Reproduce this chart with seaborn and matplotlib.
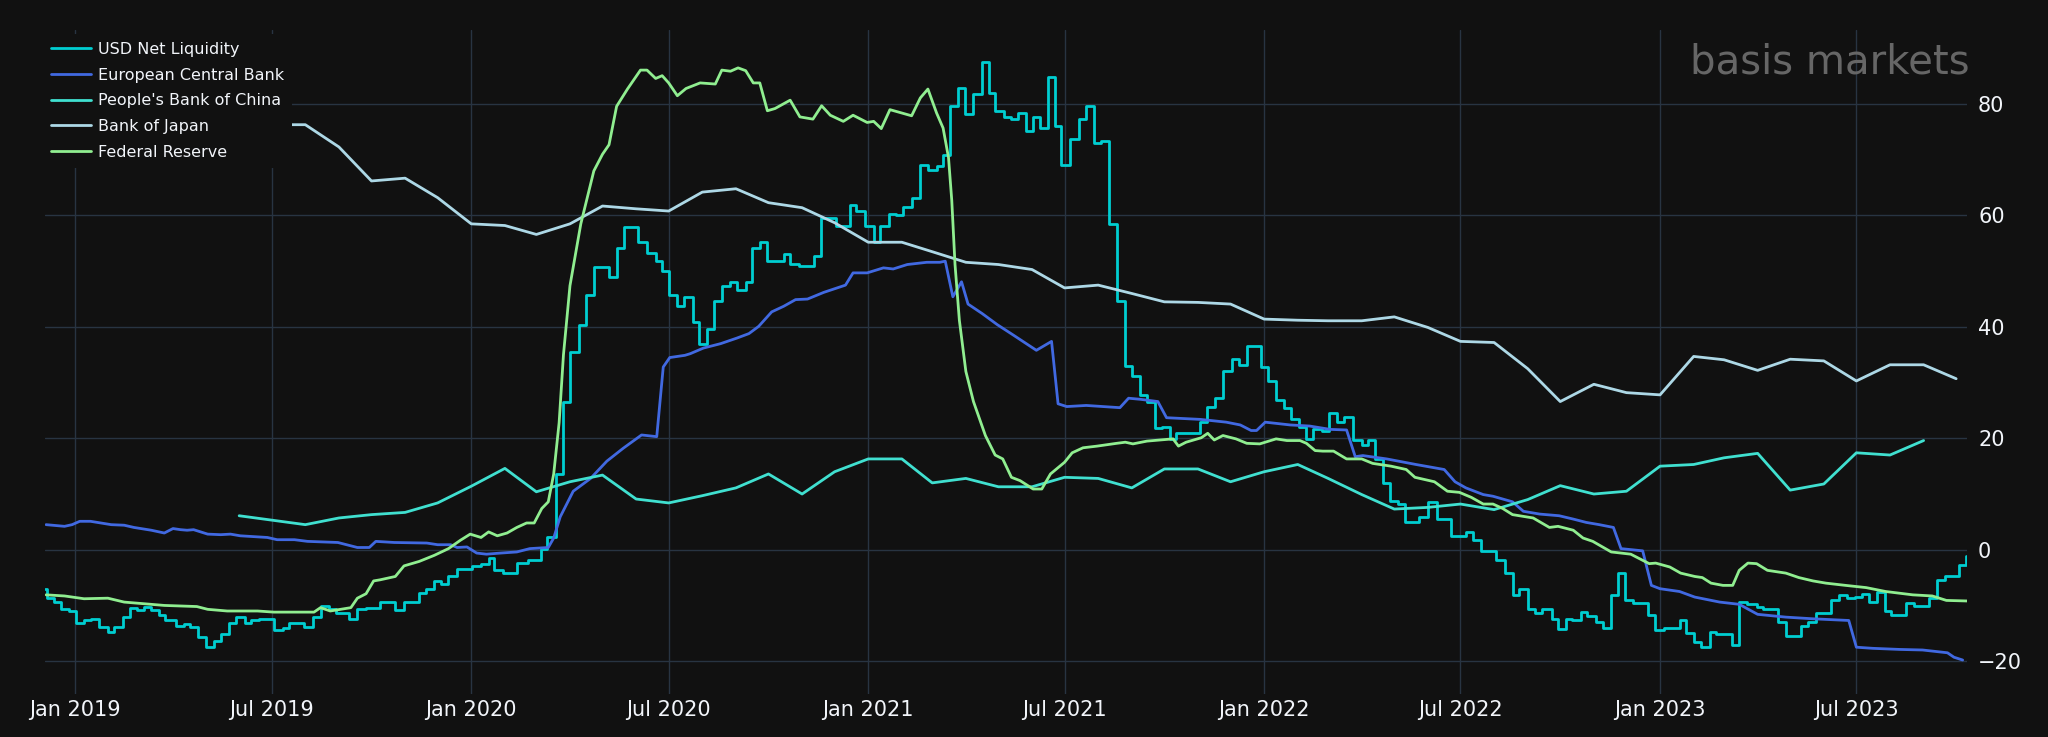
import matplotlib
matplotlib.use("Agg")
import matplotlib.pyplot as plt
import matplotlib.dates as mdates
import pandas as pd
import seaborn as sns

# ---------------- data ----------------
BASE_DATE = "2019-01-01"  # day offsets below are counted from this date

usd_days = [-28, -26, -20, -13, -6, 1, 8, 14, 22, 30,
            36, 44, 50, 57, 63, 70, 77, 83, 93, 100,
            106, 113, 120, 128, 134, 142, 148, 156, 162, 169,
            183, 191, 197, 211, 219, 226, 234, 240, 252, 260,
            268, 281, 295, 303, 317, 323, 331, 337, 344, 352,
            366, 374, 381, 386, 394, 407, 417, 429, 435, 443,
            450, 456, 464, 471, 478, 492, 499, 506, 519, 527,
            535, 541, 547, 555, 561, 569, 575, 582, 589, 596,
            604, 610, 618, 624, 631, 638, 653, 659, 667, 681,
            687, 701, 714, 720, 728, 736, 742, 750, 757, 763,
            771, 779, 786, 794, 800, 806, 814, 820, 828, 836,
            842, 848, 856, 863, 869, 876, 883, 889, 897, 903,
            909, 917, 925, 932, 939, 946, 953, 960, 968, 974,
            982, 988, 995, 1002, 1009, 1015, 1037, 1043, 1051, 1058,
            1066, 1073, 1080, 1093, 1100, 1107, 1114, 1121, 1128, 1135,
            1141, 1149, 1156, 1163, 1170, 1178, 1186, 1192, 1198, 1206,
            1212, 1219, 1226, 1239, 1247, 1255, 1268, 1282, 1289, 1296,
            1310, 1318, 1325, 1331, 1339, 1346, 1352, 1361, 1367, 1374,
            1380, 1388, 1394, 1402, 1408, 1416, 1422, 1429, 1436, 1450,
            1456, 1465, 1479, 1485, 1492, 1499, 1507, 1513, 1527, 1534,
            1541, 1550, 1556, 1570, 1577, 1591, 1597, 1605, 1619, 1626,
            1633, 1641, 1647, 1654, 1661, 1668, 1674, 1688, 1695, 1709,
            1716, 1724, 1737, 1743]
usd_vals = [-7.1, -8.7, -9.4, -10.6, -11.0, -13.1, -12.7, -12.4, -13.9, -14.8,
            -13.9, -12.1, -10.4, -10.8, -10.2, -10.8, -11.7, -12.7, -13.7, -13.3,
            -13.9, -15.6, -17.5, -16.3, -15.2, -13.1, -12.1, -13.1, -12.7, -12.5,
            -14.4, -14.0, -13.1, -13.9, -12.1, -10.1, -10.6, -11.4, -12.5, -10.6,
            -10.4, -9.4, -10.8, -9.4, -7.8, -7.0, -5.6, -6.2, -4.8, -3.5,
            -2.9, -2.5, -1.4, -3.7, -4.2, -2.4, -1.9, 0.2, 2.2, 13.6,
            26.6, 35.5, 40.3, 45.7, 50.8, 49.0, 54.1, 57.9, 55.2, 53.3,
            51.8, 50.0, 45.8, 43.7, 45.4, 40.8, 37.0, 39.7, 44.7, 47.4,
            48.1, 46.6, 48.1, 54.1, 55.2, 51.8, 53.1, 51.3, 51.0, 52.7,
            59.6, 58.2, 61.9, 60.8, 58.2, 55.2, 58.2, 60.2, 60.0, 61.5,
            63.1, 69.0, 68.1, 68.8, 70.8, 79.7, 82.8, 78.2, 81.9, 87.5,
            82.0, 78.8, 77.7, 77.3, 78.4, 75.1, 77.7, 75.7, 84.8, 76.1,
            69.0, 73.8, 77.3, 79.6, 73.1, 73.3, 58.5, 44.7, 32.9, 31.1,
            27.8, 26.5, 21.9, 22.1, 19.9, 20.9, 22.9, 25.7, 27.2, 32.0,
            34.3, 33.2, 36.5, 32.8, 30.3, 26.8, 25.5, 23.4, 22.0, 19.9,
            21.6, 21.3, 24.5, 22.9, 23.9, 19.7, 18.8, 19.7, 16.3, 12.0,
            8.8, 8.2, 5.0, 5.8, 8.6, 5.5, 2.5, 3.2, 1.7, -0.2,
            -1.9, -4.2, -8.1, -7.0, -10.6, -11.4, -10.6, -12.5, -14.2, -12.5,
            -12.7, -11.1, -11.9, -12.9, -14.0, -8.1, -4.1, -9.1, -9.6, -11.7,
            -14.4, -14.0, -12.7, -15.0, -16.5, -17.5, -14.8, -15.2, -17.1, -9.3,
            -9.8, -10.2, -10.6, -12.9, -15.4, -13.7, -12.9, -11.4, -9.1, -8.1,
            -8.7, -8.5, -7.9, -9.4, -7.5, -11.0, -11.7, -9.6, -10.1, -8.7,
            -5.4, -4.7, -2.7, -1.2]

ecb_days = [-27, -10, -3, 4, 14, 33, 45, 54, 70, 82,
            90, 97, 103, 109, 122, 134, 143, 152, 177, 186,
            202, 214, 242, 260, 271, 277, 294, 324, 334, 346,
            352, 361, 370, 379, 392, 407, 419, 436, 441, 447,
            459, 475, 490, 505, 522, 536, 542, 548, 562, 567,
            579, 595, 610, 621, 630, 642, 653, 664, 675, 690,
            710, 717, 730, 745, 754, 767, 785, 797, 802, 809,
            817, 823, 836, 850, 865, 886, 900, 906, 914, 932,
            963, 971, 982, 998, 1006, 1037, 1061, 1074, 1084, 1089,
            1097, 1120, 1138, 1157, 1172, 1180, 1187, 1209, 1236, 1262,
            1272, 1282, 1298, 1307, 1325, 1335, 1350, 1368, 1381, 1393,
            1405, 1418, 1425, 1445, 1453, 1461, 1479, 1493, 1516, 1534,
            1551, 1577, 1602, 1635, 1642, 1657, 1682, 1703, 1726, 1732,
            1740]
ecb_vals = [4.5, 4.2, 4.5, 5.1, 5.1, 4.5, 4.4, 4.0, 3.5, 3.0,
            3.8, 3.6, 3.5, 3.6, 2.8, 2.7, 2.8, 2.5, 2.2, 1.8,
            1.8, 1.5, 1.3, 0.4, 0.4, 1.5, 1.3, 1.2, 0.9, 0.9,
            0.4, 0.5, -0.6, -0.8, -0.6, -0.4, 0.2, 0.4, 2.1, 5.9,
            10.5, 12.8, 15.9, 18.2, 20.6, 20.3, 32.8, 34.5, 34.9, 35.2,
            36.2, 37.0, 38.0, 38.8, 40.1, 42.7, 43.7, 44.9, 45.0, 46.2,
            47.5, 49.7, 49.7, 50.6, 50.4, 51.2, 51.6, 51.6, 51.8, 45.4,
            48.1, 44.1, 42.4, 40.4, 38.5, 35.8, 37.4, 26.2, 25.7, 25.9,
            25.5, 27.2, 27.0, 26.6, 23.7, 23.4, 22.9, 22.4, 21.4, 21.4,
            22.9, 22.4, 22.2, 21.6, 21.5, 16.7, 16.9, 16.3, 15.3, 14.4,
            12.2, 11.1, 9.9, 9.6, 8.6, 6.9, 6.4, 6.1, 5.5, 4.9,
            4.5, 4.0, 0.2, -0.2, -6.4, -7.0, -7.5, -8.5, -9.4, -9.8,
            -11.6, -12.1, -12.4, -12.7, -17.5, -17.7, -17.9, -18.0, -18.5, -19.3,
            -19.8]

pboc_months = ["2019-06", "2019-08", "2019-09", "2019-10", "2019-11", "2019-12",
               "2020-01", "2020-02", "2020-03", "2020-04", "2020-05", "2020-06",
               "2020-07", "2020-08", "2020-09", "2020-10", "2020-11", "2020-12",
               "2021-01", "2021-02", "2021-03", "2021-04", "2021-05", "2021-06",
               "2021-07", "2021-08", "2021-09", "2021-10", "2021-11", "2021-12",
               "2022-01", "2022-02", "2022-03", "2022-04", "2022-05", "2022-06",
               "2022-07", "2022-08", "2022-09", "2022-10", "2022-11", "2022-12",
               "2023-01", "2023-02", "2023-03", "2023-04", "2023-05", "2023-06",
               "2023-07", "2023-08", "2023-09"]
pboc_vals = [6.1, 4.5, 5.7, 6.3, 6.7, 8.4,
             11.4, 14.6, 10.4, 12.2, 13.4, 9.1, 8.4, 9.7, 11.1, 13.6, 10.0, 14.0,
             16.3, 16.3, 12.0, 12.8, 11.3, 11.3, 13.0, 12.8, 11.1, 14.5, 14.5, 12.2,
             14.0, 15.3, 12.8, 9.9, 7.3, 7.6, 8.2, 7.2, 9.0, 11.5, 10.0, 10.5,
             15.0, 15.3, 16.5, 17.3, 10.7, 11.8, 17.4, 17.0, 19.6]

boj_months = ["2019-07", "2019-08", "2019-09", "2019-10", "2019-11", "2019-12",
              "2020-01", "2020-02", "2020-03", "2020-04", "2020-05", "2020-06",
              "2020-07", "2020-08", "2020-09", "2020-10", "2020-11", "2020-12",
              "2021-01", "2021-02", "2021-03", "2021-04", "2021-05", "2021-06",
              "2021-07", "2021-08", "2021-09", "2021-10", "2021-11", "2021-12",
              "2022-01", "2022-02", "2022-03", "2022-04", "2022-05", "2022-06",
              "2022-07", "2022-08", "2022-09", "2022-10", "2022-11", "2022-12",
              "2023-01", "2023-02", "2023-03", "2023-04", "2023-05", "2023-06",
              "2023-07", "2023-08", "2023-09", "2023-10"]
boj_vals = [76.3, 76.3, 72.3, 66.2, 66.7, 63.2,
            58.5, 58.2, 56.6, 58.5, 61.7, 61.2, 60.8, 64.2, 64.8, 62.3, 61.4, 58.7,
            55.2, 55.2, 53.5, 51.6, 51.2, 50.3, 47.0, 47.5, 46.0, 44.5, 44.4, 44.1,
            41.4, 41.2, 41.1, 41.1, 41.8, 39.9, 37.4, 37.2, 32.5, 26.6, 29.7, 28.2,
            27.8, 34.7, 34.1, 32.2, 34.2, 33.9, 30.3, 33.2, 33.2, 30.7]

fed_days = [-27, -10, 8, 30, 45, 57, 82, 112, 122, 140,
            168, 183, 220, 226, 235, 254, 260, 268, 275, 281,
            295, 303, 317, 331, 344, 355, 364, 374, 381, 389,
            398, 407, 416, 423, 430, 436, 441, 446, 450, 456,
            466, 478, 486, 492, 499, 509, 521, 527, 535, 541,
            547, 555, 563, 576, 590, 596, 604, 611, 618, 625,
            631, 638, 645, 659, 668, 680, 688, 696, 708, 717,
            730, 736, 743, 751, 771, 779, 786, 794, 800, 805,
            808, 811, 815, 821, 828, 839, 848, 855, 863, 871,
            883, 891, 899, 912, 919, 929, 942, 960, 968, 975,
            988, 1000, 1012, 1017, 1024, 1038, 1044, 1050, 1058, 1070,
            1080, 1092, 1107, 1117, 1129, 1135, 1143, 1150, 1160, 1172,
            1186, 1196, 1213, 1227, 1235, 1253, 1265, 1276, 1287, 1298,
            1307, 1316, 1325, 1344, 1359, 1367, 1381, 1390, 1399, 1416,
            1434, 1442, 1451, 1457, 1470, 1480, 1493, 1500, 1508, 1519,
            1528, 1534, 1542, 1550, 1560, 1577, 1589, 1602, 1614, 1632,
            1651, 1669, 1694, 1712, 1725, 1744]
fed_vals = [-8.1, -8.3, -8.8, -8.7, -9.4, -9.6, -10.0, -10.2, -10.7, -11.0,
            -11.0, -11.2, -11.2, -10.4, -11.0, -10.4, -8.7, -7.9, -5.6, -5.4,
            -4.8, -2.9, -2.1, -1.0, 0.2, 1.7, 2.8, 2.2, 3.2, 2.5,
            3.0, 4.0, 4.8, 4.8, 7.4, 8.6, 13.6, 22.8, 35.0, 47.4,
            58.5, 68.0, 71.0, 72.7, 79.6, 82.7, 86.1, 86.1, 84.6, 85.1,
            83.8, 81.5, 82.8, 83.8, 83.6, 86.1, 85.9, 86.5, 86.0, 83.8,
            83.8, 78.8, 79.2, 80.7, 77.7, 77.3, 79.7, 78.0, 76.9, 78.0,
            76.7, 76.9, 75.6, 79.0, 77.9, 81.1, 82.7, 78.4, 75.7, 70.4,
            62.7, 51.2, 41.2, 32.0, 26.6, 20.5, 17.0, 16.3, 13.0, 12.4,
            10.9, 10.9, 13.6, 15.7, 17.4, 18.3, 18.6, 19.1, 19.3, 19.0,
            19.5, 19.7, 19.9, 18.6, 19.3, 20.1, 20.9, 19.7, 20.5, 19.9,
            19.1, 19.0, 19.9, 19.6, 19.6, 19.1, 17.8, 17.7, 17.7, 16.3,
            16.3, 15.5, 15.0, 14.4, 13.0, 12.2, 10.5, 10.3, 9.4, 8.2,
            8.2, 7.4, 6.3, 5.7, 4.0, 4.2, 3.5, 2.1, 1.5, -0.4,
            -0.8, -1.6, -2.5, -2.4, -3.1, -4.2, -4.8, -5.0, -6.0, -6.4,
            -6.4, -3.7, -2.4, -2.5, -3.7, -4.2, -5.0, -5.6, -6.0, -6.4,
            -6.8, -7.5, -8.1, -8.3, -9.1, -9.2]

series_names = ["USD Net Liquidity", "European Central Bank",
                "People's Bank of China", "Bank of Japan", "Federal Reserve"]
series_colors = ["#00CED1", "#4169E1", "#40E0D0", "#ADD8E6", "#90EE90"]
y_ticks = [-20, 0, 20, 40, 60, 80]
watermark = "basis markets"

# ---------------- build frames ----------------
base = pd.Timestamp(BASE_DATE)


def by_days(days, vals):
    return pd.DataFrame({"date": base + pd.to_timedelta(days, unit="D"), "value": vals})


def by_months(months, vals):
    return pd.DataFrame({"date": pd.to_datetime(months, format="%Y-%m"), "value": vals})


frames = [by_days(usd_days, usd_vals), by_days(ecb_days, ecb_vals),
          by_months(pboc_months, pboc_vals), by_months(boj_months, boj_vals),
          by_days(fed_days, fed_vals)]
styles = ["steps-post", "default", "default", "default", "default"]

# ---------------- style ----------------
BG = "#111111"
GRID = "#283442"
FG = "#f2f5fa"
sns.set_theme(style="dark", rc={"figure.facecolor": BG, "axes.facecolor": BG,
                                "savefig.facecolor": BG, "axes.edgecolor": BG})
plt.rcParams["font.family"] = ["DejaVu Sans"]

W, H = 2048, 737
fig = plt.figure(figsize=(W / 100, H / 100), dpi=100)
left, right, top, bottom = 45, 1967, 30, 694
ax = fig.add_axes([left / W, 1 - bottom / H, (right - left) / W, (bottom - top) / H])
ax.set_facecolor(BG)

for df, name, col, ds in zip(frames, series_names, series_colors, styles):
    sns.lineplot(data=df, x="date", y="value", ax=ax, color=col, linewidth=2.0,
                 label=name, drawstyle=ds, errorbar=None, sort=True)

all_dates = pd.concat([f["date"] for f in frames])
ax.set_xlim(all_dates.min(), all_dates.max())
ax.set_ylim(-25.9, 93.3)

ax.xaxis.set_major_locator(mdates.MonthLocator(bymonth=[1, 7]))
ax.xaxis.set_major_formatter(mdates.DateFormatter("%b %Y"))
ax.yaxis.tick_right()
ax.set_yticks(y_ticks)
ax.tick_params(axis="x", length=0, pad=4, labelsize=15, colors=FG)
ax.tick_params(axis="y", length=0, pad=8, labelsize=15, colors=FG)
ax.set_xlabel("")
ax.set_ylabel("")
ax.grid(True, color=GRID, linewidth=1.0)
ax.set_axisbelow(True)
for s in ax.spines.values():
    s.set_visible(False)

leg = ax.legend(loc="upper left", bbox_to_anchor=(43 / W, 1 - 34 / H),
                bbox_transform=fig.transFigure, frameon=True, facecolor=BG,
                edgecolor="none", framealpha=1.0, fancybox=False,
                fontsize=11.5, labelcolor=FG, handlelength=2.5,
                handletextpad=0.45, labelspacing=0.67, borderpad=0.5,
                borderaxespad=0)
leg.set_zorder(10)

fig.text(1970 / W, 1 - 73 / H, watermark, ha="right", va="baseline",
         fontsize=29, color="#666666", zorder=20)

fig.savefig("out.png", dpi=100, facecolor=BG)
